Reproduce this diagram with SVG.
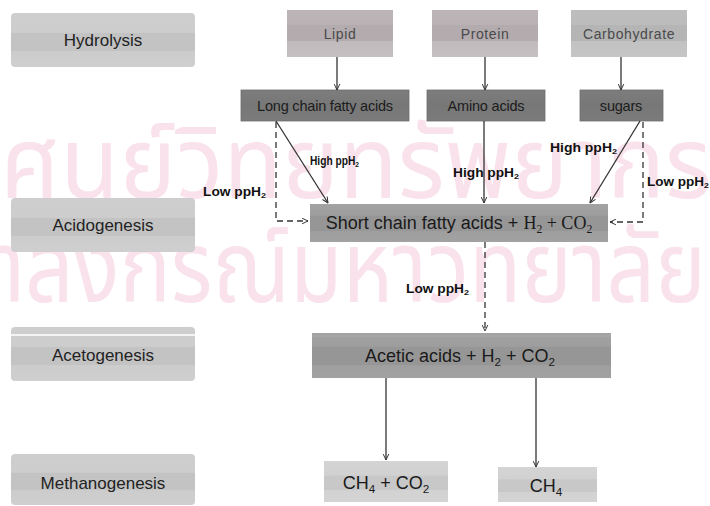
<svg xmlns="http://www.w3.org/2000/svg" width="710" height="506" viewBox="0 0 710 506">
  <style>
    .wm { font-family: "Noto Sans Thai", "Noto Sans", "DejaVu Sans", sans-serif; fill: #f9e2eb; }
    .stage-t { font-family: "Liberation Sans", Arial, sans-serif; font-size: 17px; fill: #222; text-anchor: middle; }
    .src-t { font-family: "Liberation Sans", Arial, sans-serif; font-size: 14px; fill: #4a4a4a; text-anchor: middle; letter-spacing: 0.6px; }
    .mid-t { font-family: "Liberation Sans", Arial, sans-serif; font-size: 14.5px; fill: #1c1c1c; text-anchor: middle; letter-spacing: -0.2px; }
    .big-t { font-family: "Liberation Sans", Arial, sans-serif; font-size: 18px; fill: #1a1a1a; text-anchor: middle; }
    .serif { font-family: "Liberation Serif", "Times New Roman", serif; }
    .lbl { font-family: "Liberation Sans", Arial, sans-serif; font-size: 12.5px; fill: #111; font-weight: bold; }
    .sub { font-size: 65%; }
    .solid { fill: none; stroke: #333; stroke-width: 1.3; }
    .dash { fill: none; stroke: #333; stroke-width: 1.3; stroke-dasharray: 6 4; }
  </style>
  <defs>
    <linearGradient id="gStage" x1="0" y1="0" x2="0" y2="1">
      <stop offset="0" stop-color="#cecece"/>
      <stop offset="0.36" stop-color="#cdcdcd"/>
      <stop offset="0.37" stop-color="#c3c3c3"/>
      <stop offset="0.7" stop-color="#c3c3c3"/>
      <stop offset="0.71" stop-color="#cccccc"/>
      <stop offset="1" stop-color="#cfcfcf"/>
    </linearGradient>
    <linearGradient id="gSrc" x1="0" y1="0" x2="0" y2="1">
      <stop offset="0" stop-color="#bcb4b7"/>
      <stop offset="0.32" stop-color="#bab1b4"/>
      <stop offset="0.33" stop-color="#b3abae"/>
      <stop offset="0.66" stop-color="#b3abae"/>
      <stop offset="0.67" stop-color="#c1bbbd"/>
      <stop offset="1" stop-color="#c4bfc1"/>
    </linearGradient>
    <linearGradient id="gSrc2" x1="0" y1="0" x2="0" y2="1">
      <stop offset="0" stop-color="#bdbdbd"/>
      <stop offset="0.32" stop-color="#bcbcbc"/>
      <stop offset="0.33" stop-color="#b5b5b5"/>
      <stop offset="0.66" stop-color="#b5b5b5"/>
      <stop offset="0.67" stop-color="#c2c2c2"/>
      <stop offset="1" stop-color="#c5c5c5"/>
    </linearGradient>
    <linearGradient id="gMid" x1="0" y1="0" x2="0" y2="1">
      <stop offset="0" stop-color="#7d7d7d"/>
      <stop offset="0.5" stop-color="#777777"/>
      <stop offset="1" stop-color="#7b7b7b"/>
    </linearGradient>
    <linearGradient id="gBig" x1="0" y1="0" x2="0" y2="1">
      <stop offset="0" stop-color="#a3a3a3"/>
      <stop offset="0.3" stop-color="#9d9d9d"/>
      <stop offset="0.31" stop-color="#969696"/>
      <stop offset="0.7" stop-color="#969696"/>
      <stop offset="0.71" stop-color="#9e9e9e"/>
      <stop offset="1" stop-color="#a2a2a2"/>
    </linearGradient>
    <linearGradient id="gEnd" x1="0" y1="0" x2="0" y2="1">
      <stop offset="0" stop-color="#d4d4d4"/>
      <stop offset="0.35" stop-color="#d1d1d1"/>
      <stop offset="0.36" stop-color="#c8c8c8"/>
      <stop offset="0.7" stop-color="#c8c8c8"/>
      <stop offset="0.71" stop-color="#d2d2d2"/>
      <stop offset="1" stop-color="#d4d4d4"/>
    </linearGradient>
    <marker id="arr" viewBox="0 0 10 10" refX="9.5" refY="5" markerWidth="7" markerHeight="7" markerUnits="userSpaceOnUse" orient="auto">
      <path d="M1,1 L9.5,5 L1,9" fill="none" stroke="#333" stroke-width="1.4"/>
    </marker>
  </defs>

  <rect width="710" height="506" fill="#ffffff"/>

  <!-- background watermark -->
  <g id="watermark">
    <text class="wm" x="0" y="198" font-size="100" textLength="712" lengthAdjust="spacingAndGlyphs">ศูนย์วิทยทรัพยากร</text>
    <text class="wm" x="-112" y="302" font-size="100" textLength="818" lengthAdjust="spacingAndGlyphs">จุฬาลงกรณ์มหาวิทยาลัย</text>
  </g>

  <!-- stage column -->
  <g id="stage-hydrolysis">
    <rect x="11" y="13" width="184" height="54" rx="4" fill="url(#gStage)"/>
    <text class="stage-t" x="103" y="46">Hydrolysis</text>
  </g>
  <g id="stage-acidogenesis">
    <rect x="11" y="198" width="184" height="54" rx="4" fill="url(#gStage)"/>
    <text class="stage-t" x="103" y="231">Acidogenesis</text>
  </g>
  <g id="stage-acetogenesis">
    <rect x="11" y="327" width="184" height="54" rx="4" fill="url(#gStage)"/>
    <line x1="11" y1="335" x2="195" y2="335" stroke="#ffffff" stroke-width="1.5"/>
    <text class="stage-t" x="103" y="361">Acetogenesis</text>
  </g>
  <g id="stage-methanogenesis">
    <rect x="11" y="454" width="184" height="51" rx="4" fill="url(#gStage)"/>
    <text class="stage-t" x="103" y="489">Methanogenesis</text>
  </g>

  <!-- substrates -->
  <g id="lipid">
    <rect x="287" y="10" width="106" height="47" fill="url(#gSrc)"/>
    <text class="src-t" x="340" y="39">Lipid</text>
  </g>
  <g id="protein">
    <rect x="432" y="10" width="106" height="47" fill="url(#gSrc)"/>
    <text class="src-t" x="485" y="39">Protein</text>
  </g>
  <g id="carbohydrate">
    <rect x="571" y="10" width="116" height="47" fill="url(#gSrc2)"/>
    <text class="src-t" x="629" y="39">Carbohydrate</text>
  </g>

  <!-- hydrolysis products -->
  <g id="lcfa">
    <rect x="241" y="90" width="168" height="31" fill="url(#gMid)" stroke="#6e6e6e" stroke-width="0.8"/>
    <text class="mid-t" x="325" y="111">Long chain fatty acids</text>
  </g>
  <g id="amino-acids">
    <rect x="427" y="90" width="118" height="31" fill="url(#gMid)" stroke="#6e6e6e" stroke-width="0.8"/>
    <text class="mid-t" x="486" y="111">Amino acids</text>
  </g>
  <g id="sugars">
    <rect x="580" y="90" width="83" height="31" fill="url(#gMid)" stroke="#6e6e6e" stroke-width="0.8"/>
    <text class="mid-t" x="621" y="111">sugars</text>
  </g>

  <!-- acidogenesis product -->
  <g id="scfa">
    <rect x="310" y="204" width="298" height="38" fill="url(#gBig)"/>
    <text class="big-t" x="459" y="229">Short chain fatty acids + <tspan class="serif">H<tspan class="sub" dy="4">2</tspan><tspan dy="-4"> + CO</tspan><tspan class="sub" dy="4">2</tspan></tspan></text>
  </g>

  <!-- acetogenesis product -->
  <g id="acetic">
    <rect x="312" y="333" width="299" height="45" fill="url(#gBig)"/>
    <line x1="312" y1="336" x2="611" y2="336" stroke="#acacac" stroke-width="1"/>
    <text class="big-t" x="460" y="362">Acetic acids + H<tspan class="sub" dy="4">2</tspan><tspan dy="-4"> + CO</tspan><tspan class="sub" dy="4">2</tspan></text>
  </g>

  <!-- methanogenesis products -->
  <g id="ch4-co2">
    <rect x="324" y="461" width="124" height="41" fill="url(#gEnd)"/>
    <text class="big-t" x="386" y="489">CH<tspan class="sub" dy="4">4</tspan><tspan dy="-4"> + CO</tspan><tspan class="sub" dy="4">2</tspan></text>
  </g>
  <g id="ch4">
    <rect x="498" y="467" width="99" height="35" fill="url(#gEnd)"/>
    <text class="big-t" x="546" y="492">CH<tspan class="sub" dy="4">4</tspan></text>
  </g>

  <!-- connectors -->
  <g id="connectors">
    <line class="solid" x1="337" y1="57" x2="337" y2="90" marker-end="url(#arr)"/>
    <line class="solid" x1="485" y1="57" x2="485" y2="90" marker-end="url(#arr)"/>
    <line class="solid" x1="621" y1="57" x2="621" y2="90" marker-end="url(#arr)"/>

    <line class="solid" x1="276" y1="121" x2="328" y2="203" marker-end="url(#arr)"/>
    <polyline class="dash" points="276,122 276,221 308,221" marker-end="url(#arr)"/>

    <line class="solid" x1="484" y1="121" x2="484" y2="203" marker-end="url(#arr)"/>

    <line class="solid" x1="640" y1="121" x2="590" y2="203" marker-end="url(#arr)"/>
    <polyline class="dash" points="643,122 643,222 610,222" marker-end="url(#arr)"/>

    <line class="dash" x1="485" y1="242" x2="485" y2="331" marker-end="url(#arr)"/>

    <line class="solid" x1="386" y1="378" x2="386" y2="460" marker-end="url(#arr)"/>
    <line class="solid" x1="536" y1="378" x2="536" y2="467" marker-end="url(#arr)"/>

    <text class="lbl" x="310" y="165" textLength="49" lengthAdjust="spacingAndGlyphs">High ppH<tspan class="sub" dy="2">2</tspan></text>
    <text class="lbl" x="203" y="196" textLength="63" lengthAdjust="spacingAndGlyphs">Low ppH<tspan class="sub" dy="2">2</tspan></text>
    <text class="lbl" x="453" y="177" textLength="66" lengthAdjust="spacingAndGlyphs">High ppH<tspan class="sub" dy="2">2</tspan></text>
    <text class="lbl" x="550" y="152" textLength="67" lengthAdjust="spacingAndGlyphs">High ppH<tspan class="sub" dy="2">2</tspan></text>
    <text class="lbl" x="647" y="186" textLength="62" lengthAdjust="spacingAndGlyphs">Low ppH<tspan class="sub" dy="2">2</tspan></text>
    <text class="lbl" x="406" y="293" textLength="63" lengthAdjust="spacingAndGlyphs">Low ppH<tspan class="sub" dy="2">2</tspan></text>
  </g>
</svg>
